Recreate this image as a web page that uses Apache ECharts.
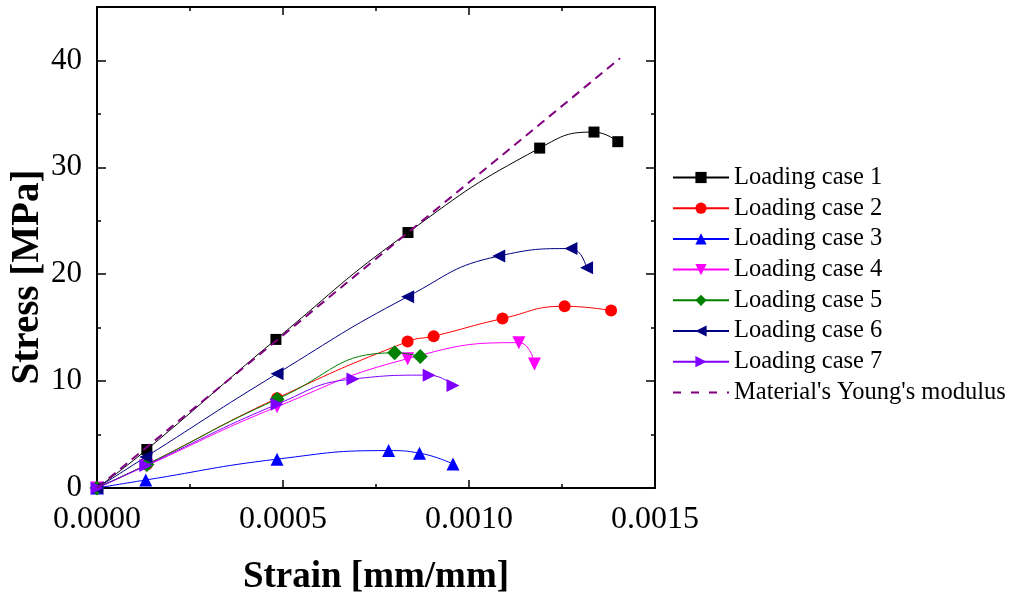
<!DOCTYPE html>
<html>
<head>
<meta charset="utf-8">
<script src="https://cdn.jsdelivr.net/npm/echarts@6/dist/echarts.min.js"></script>
<style>
  html, body { margin: 0; padding: 0; background: #fff; }
  #chart { width: 1017px; height: 601px; }
</style>
</head>
<body>
<div id="chart"></div>
<script>
// Stress–strain curves for seven loading cases, plus the elastic reference line
const seriesNames = [
  'Loading case 1', 'Loading case 2', 'Loading case 3', 'Loading case 4',
  'Loading case 5', 'Loading case 6', 'Loading case 7'
];
const youngName = "Material's Young's modulus";

// [strain (mm/mm), stress (MPa)]
const case1 = [[0, 0], [0.000134, 3.6], [0.000481, 13.9], [0.000836, 23.9], [0.00119, 31.8], [0.001336, 33.3], [0.0014, 32.4]];
const case2 = [[0, 0], [0.000134, 2.2], [0.000484, 8.4], [0.000835, 13.7], [0.000905, 14.2], [0.00109, 15.85], [0.001257, 17.0], [0.001382, 16.6]];
const case3 = [[0, 0], [0.000131, 0.75], [0.000484, 2.7], [0.000784, 3.5], [0.000867, 3.26], [0.000957, 2.24]];
const case4 = [[0, 0], [0.000134, 2.1], [0.000484, 7.6], [0.000835, 12.1], [0.001134, 13.6], [0.001176, 11.6]];
const case5 = [[0, 0], [0.000134, 2.2], [0.000484, 8.3], [0.0008, 12.65], [0.000869, 12.3]];
const case6 = [[0, 0], [0.000131, 2.9], [0.000484, 10.7], [0.000835, 17.9], [0.00108, 21.7], [0.001274, 22.4], [0.001316, 20.6]];
const case7 = [[0, 0], [0.000131, 2.1], [0.000484, 7.83], [0.000688, 10.2], [0.000893, 10.56], [0.000957, 9.6]];
const youngLine = [[0, 0], [0.001406, 40.2]];

const xTicks = { min: 0, max: 0.0015, interval: 0.0005 };
const yTicks = { min: 0, max: 45, interval: 10, minorInterval: 5 };

const colors = ['#000000', '#ff0000', '#0000ff', '#ff00ff', '#008000', '#000080', '#8000ff'];
const symbols = ['rect', 'circle', 'triangle', 'triangle', 'diamond', 'triangle', 'triangle'];
const rotations = [0, 0, 0, 180, 0, 90, -90];
const sizes = [11, 12, 13, 13, 15, 13, 13];
const allCases = [case1, case2, case3, case4, case5, case6, case7];

const FONT = 'Liberation Serif, Times New Roman, serif';
const lineCol = '#000';

function frameAxisX(pos, showLabels) {
  return {
    type: 'value', position: pos, min: xTicks.min, max: xTicks.max, interval: xTicks.interval,
    axisLine: { show: true, onZero: false, lineStyle: { color: lineCol, width: 2 } },
    axisTick: { show: true, inside: true, length: 8, lineStyle: { color: lineCol, width: 1.5 } },
    minorTick: { show: true, splitNumber: 2, length: 4, lineStyle: { color: lineCol, width: 1.5 } },
    splitLine: { show: false },
    axisLabel: showLabels ? {
      show: true, margin: 16, color: '#000', fontFamily: FONT, fontSize: 32,
      formatter: v => v.toFixed(4)
    } : { show: false }
  };
}
function frameAxisY(pos, major, showLabels) {
  return {
    type: 'value', position: pos, min: yTicks.min, max: yTicks.max,
    interval: major ? yTicks.interval : yTicks.minorInterval,
    axisLine: { show: major, onZero: false, lineStyle: { color: lineCol, width: 2 } },
    axisTick: { show: true, inside: true, length: major ? 9 : 4, lineStyle: { color: lineCol, width: 1.5 } },
    splitLine: { show: false },
    axisLabel: showLabels ? {
      show: true, margin: 15, color: '#000', fontFamily: FONT, fontSize: 31, showMaxLabel: false
    } : { show: false }
  };
}

const series = allCases.map((d, i) => ({
  name: seriesNames[i], type: 'line', data: d, smooth: 0.5,
  xAxisIndex: 0, yAxisIndex: 0,
  symbol: symbols[i], symbolSize: sizes[i], symbolRotate: rotations[i], showAllSymbol: true,
  lineStyle: { color: colors[i], width: 1 },
  itemStyle: { color: colors[i] },
  emphasis: { disabled: true }, animation: false, z: 2 + i
}));
series.push({
  name: youngName, type: 'line', data: youngLine, symbol: 'none',
  xAxisIndex: 0, yAxisIndex: 0,
  lineStyle: { color: '#800080', width: 2, type: [9, 6] },
  itemStyle: { color: '#800080' },
  emphasis: { disabled: true }, animation: false, z: 10
});

const legendData = seriesNames.map(n => ({ name: n }));
legendData.push({
  name: youngName, itemStyle: { opacity: 0 },
  lineStyle: { color: '#800080', width: 2, type: [8, 10] }
});

const chart = echarts.init(document.getElementById('chart'), null, { renderer: 'canvas' });
chart.setOption({
  backgroundColor: '#fff',
  animation: false,
  grid: { left: 97, right: 362, top: 7, bottom: 112, containLabel: false },
  xAxis: [
    Object.assign(frameAxisX('bottom', true), {
      name: 'Strain [mm/mm]', nameLocation: 'middle', nameGap: 71,
      nameTextStyle: { fontFamily: FONT, fontSize: 37, fontWeight: 'bold', color: '#000' }
    }),
    frameAxisX('top', false)
  ],
  yAxis: [
    frameAxisY('left', true, true),
    frameAxisY('left', false, false),
    frameAxisY('right', true, false),
    frameAxisY('right', false, false)
  ],
  legend: {
    orient: 'vertical', left: 672, top: 165, padding: 0,
    itemWidth: 56, itemHeight: 14, itemGap: 5.7,
    textStyle: { fontFamily: FONT, fontSize: 24.5, color: '#000', lineHeight: 25 },
    data: legendData
  },
  graphic: [{
    type: 'text', x: 28, y: 277, rotation: Math.PI / 2,
    style: {
      text: 'Stress [MPa]', fontFamily: FONT, fontSize: 39, fontWeight: 'bold',
      fill: '#000', align: 'center', verticalAlign: 'middle'
    }
  }],
  series: series
});
</script>
</body>
</html>
